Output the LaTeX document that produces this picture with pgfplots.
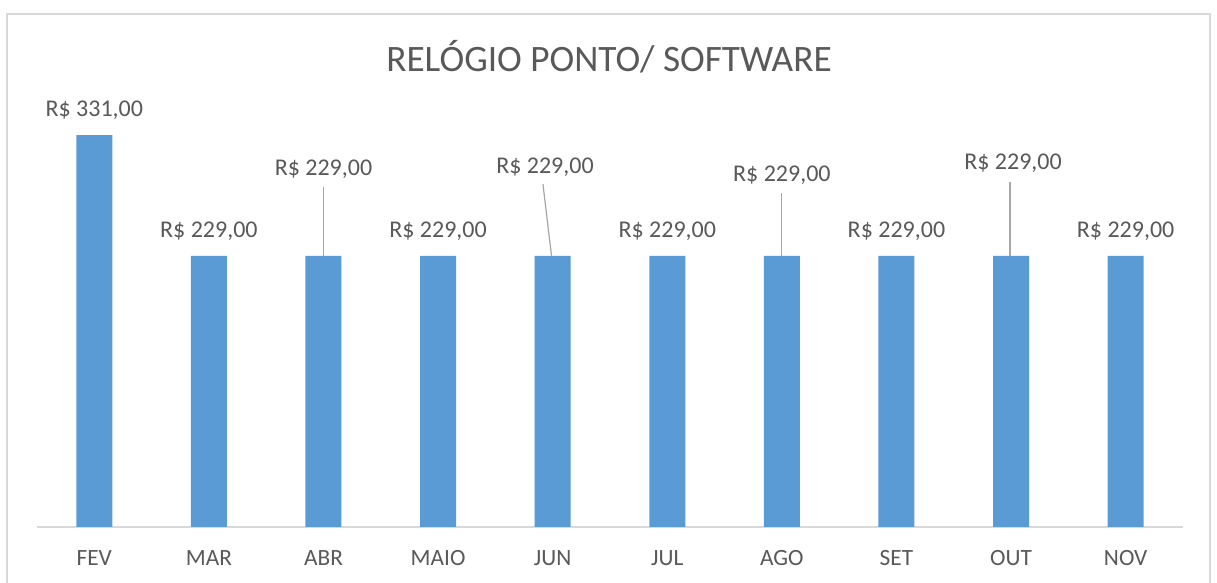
\documentclass[border=0pt]{standalone}
\usepackage{pgfplots}
\pgfplotsset{compat=1.18}
\usepackage{fontspec}
\setmainfont{Carlito}
\definecolor{barblue}{HTML}{5B9BD5}
\definecolor{txtgray}{HTML}{595959}
\definecolor{axgray}{HTML}{D9D9D9}
\definecolor{leadgray}{HTML}{A6A6A6}
\begin{document}
\begin{tikzpicture}[x=1pt,y=1pt]
\path[use as bounding box] (0,0) rectangle (1217,583);
\fill[white] (0,0) rectangle (1217,583);
\draw[axgray, line width=1.5pt] (7,0) -- (7,569) -- (1210,569) -- (1210,0);
\node[txtgray, font=\fontsize{37.3}{40}\selectfont] at (609,526) {RELÓGIO PONTO/ SOFTWARE};
\begin{axis}[
  at={(37pt,56pt)}, anchor=south west,
  scale only axis, width=1146pt, height=473.7pt,
  xmin=-0.5, xmax=9.5, ymin=0, ymax=400,
  hide y axis,
  axis x line*=bottom,
  x axis line style={-, draw=axgray, line width=1.5pt},
  xtick={0,...,9},
  xticklabels={FEV,MAR,ABR,MAIO,JUN,JUL,AGO,SET,OUT,NOV},
  major tick length=0pt,
  xticklabel style={anchor=center, yshift=-31pt, text=txtgray, font=\fontsize{23.3}{26}\selectfont},
  ytick=\empty,
  clip=false,
]
\addplot[ybar, bar width=36pt, fill=barblue, draw=none] coordinates {
  (0,331) (1,229) (2,229) (3,229) (4,229) (5,229) (6,229) (7,229) (8,229) (9,229)
};
\begin{scope}[every node/.style={text=txtgray, font=\fontsize{24}{26}\selectfont}]
\node at (axis cs:0,352.1) {R\$ 331,00};
\node at (axis cs:1,249.9) {R\$ 229,00};
\node at (axis cs:2,302.3) {R\$ 229,00};
\node at (axis cs:3,249.9) {R\$ 229,00};
\node at (axis cs:3.933,304) {R\$ 229,00};
\node at (axis cs:5,249.9) {R\$ 229,00};
\node at (axis cs:6,297.2) {R\$ 229,00};
\node at (axis cs:7,249.9) {R\$ 229,00};
\node at (axis cs:8.017,307.4) {R\$ 229,00};
\node at (axis cs:9,249.9) {R\$ 229,00};
\end{scope}
\draw[leadgray, line width=1.2pt] (axis cs:2,287.1) -- (axis cs:2,229);
\draw[leadgray, line width=1.2pt] (axis cs:3.915,289.6) -- (axis cs:3.99,229);
\draw[leadgray, line width=1.2pt] (axis cs:6,282) -- (axis cs:6,229);
\draw[leadgray, line width=1.2pt] (axis cs:7.99,291.7) -- (axis cs:7.99,229);
\end{axis}
\end{tikzpicture}
\end{document}
